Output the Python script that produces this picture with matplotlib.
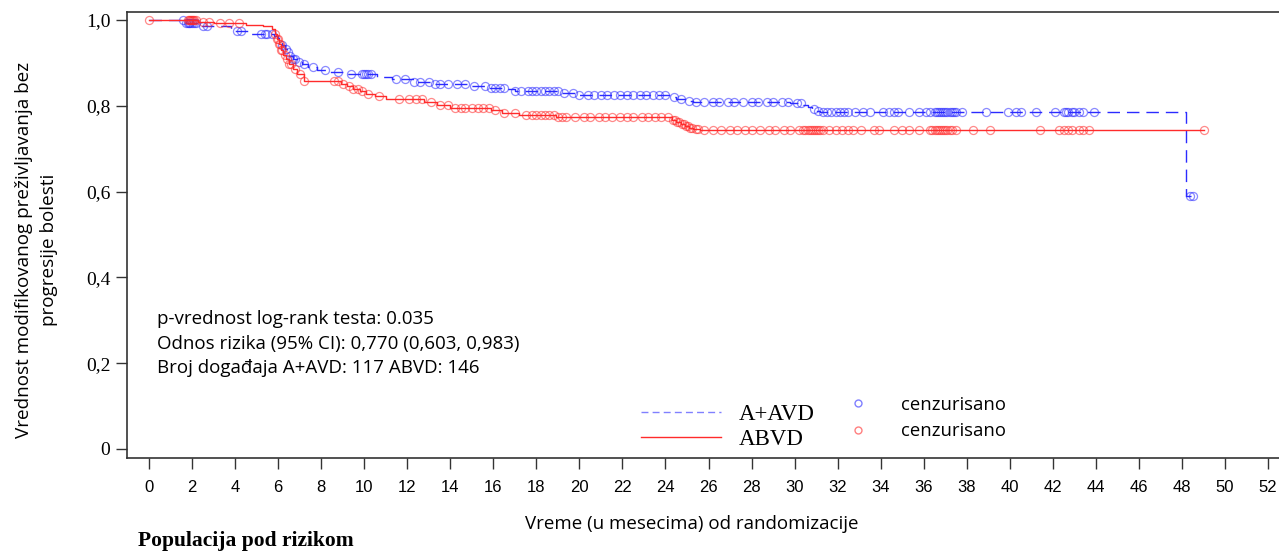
import numpy as np
import matplotlib
matplotlib.use("Agg")
import matplotlib.pyplot as plt
from matplotlib.lines import Line2D

# Kaplan-Meier knots (time in months, survival after the step)
aavd_t = [0, 1.7, 2.3, 3.8, 4.6, 5.8, 6.0, 6.1, 6.2, 6.3, 6.4, 6.5, 6.7, 6.9, 7.1, 7.4,
          7.8, 8.3, 9.0, 10.6, 11.3, 12.3, 13.2, 14.8, 15.8, 16.6, 17.0, 19.2, 20.0,
          24.2, 24.5, 24.9, 25.3, 29.8, 30.4, 30.6, 30.8, 31.0, 31.2, 48.2]
aavd_s = [1.0, 0.992, 0.987, 0.975, 0.968, 0.963, 0.957, 0.950, 0.942, 0.933, 0.925,
          0.917, 0.910, 0.903, 0.897, 0.890, 0.884, 0.879, 0.874, 0.868, 0.863, 0.856,
          0.851, 0.847, 0.842, 0.838, 0.834, 0.830, 0.824, 0.820, 0.816, 0.811, 0.808,
          0.806, 0.801, 0.797, 0.793, 0.789, 0.786, 0.590]
aavd_end = 48.5

abvd_t = [0, 2.3, 3.0, 4.5, 5.3, 5.7, 5.85, 5.95, 6.05, 6.15, 6.25, 6.35, 6.5, 6.7, 6.9,
          7.2, 8.9, 9.2, 9.5, 9.8, 10.1, 10.5, 11.0, 12.8, 13.4, 14.0, 15.9, 16.4, 17.2,
          18.9, 24.3, 24.5, 24.7, 24.9, 25.1, 25.3, 25.6]
abvd_s = [1.0, 0.996, 0.993, 0.989, 0.985, 0.978, 0.967, 0.955, 0.943, 0.931, 0.919,
          0.908, 0.897, 0.886, 0.873, 0.858, 0.850, 0.845, 0.840, 0.834, 0.828, 0.822,
          0.815, 0.808, 0.802, 0.795, 0.790, 0.784, 0.779, 0.773, 0.768, 0.763, 0.758,
          0.753, 0.749, 0.746, 0.744]
abvd_end = 49.0

# censoring times
aavd_cens = [1.6, 1.7, 1.8, 1.85, 1.9, 2.0, 2.1, 2.2, 2.5, 2.7, 4.1, 4.3, 5.2, 5.4, 5.5,
             5.7, 6.2, 6.35, 6.45, 6.55, 6.7, 6.8, 6.95, 7.2, 7.6, 8.2, 8.8, 9.4, 9.9,
             10.0, 10.1, 10.2, 10.3, 11.5, 11.9, 12.3, 12.6, 13.0, 13.3, 13.5, 13.9,
             14.3, 14.7, 15.1, 15.6, 15.9, 16.1, 16.3, 16.5, 17.0, 17.3, 17.6, 17.8,
             18.0, 18.2, 18.4, 18.6, 18.8, 19.0, 19.3, 19.7, 20.0, 20.4, 20.7, 21.0,
             21.3, 21.6, 21.9, 22.2, 22.5, 22.8, 23.1, 23.4, 23.7, 24.0, 24.4, 24.7,
             25.1, 25.4, 25.8, 26.2, 26.5, 26.9, 27.2, 27.6, 28.0, 28.3, 28.7, 29.0,
             29.4, 29.7, 30.1, 30.3, 30.9, 31.1, 31.3, 31.5, 31.7, 31.9, 32.1, 32.3,
             32.5, 32.8, 33.2, 33.5, 34.1, 34.4, 34.6, 34.8, 35.3, 35.8, 36.1, 36.3,
             36.5, 36.6, 36.7, 36.8, 36.9, 37.0, 37.1, 37.2, 37.3, 37.4, 37.5, 37.8,
             38.9, 39.9, 40.3, 40.5, 41.2, 42.1, 42.5, 42.6, 42.7, 42.9, 43.0, 43.2,
             43.4, 43.9, 48.35, 48.5]
abvd_cens = [0.0, 1.8, 1.85, 1.9, 1.95, 2.0, 2.05, 2.1, 2.2, 2.5, 2.8, 3.3, 3.7, 4.2,
             5.85, 5.95, 6.0, 6.05, 6.1, 6.15, 6.2, 6.3, 6.4, 6.5, 6.6, 6.8, 7.0, 7.2,
             8.6, 8.8, 9.0, 9.3, 9.5, 9.7, 9.9, 10.2, 10.7, 11.6, 12.1, 12.4, 12.7,
             13.1, 13.5, 13.9, 14.2, 14.5, 14.7, 15.0, 15.3, 15.5, 15.8, 16.1, 16.5,
             17.0, 17.5, 17.8, 18.0, 18.2, 18.4, 18.6, 18.8, 19.0, 19.2, 19.4, 19.8,
             20.2, 20.5, 20.9, 21.2, 21.5, 21.9, 22.2, 22.5, 22.9, 23.2, 23.5, 23.8,
             24.1, 24.35, 24.45, 24.55, 24.65, 24.75, 24.85, 24.95, 25.05, 25.15,
             25.25, 25.4, 25.5, 25.8, 26.2, 26.6, 27.0, 27.3, 27.7, 28.0, 28.4, 28.8,
             29.1, 29.5, 29.8, 30.2, 30.4, 30.5, 30.6, 30.7, 30.8, 30.9, 31.0, 31.1,
             31.2, 31.3, 31.6, 31.9, 32.2, 32.5, 32.7, 33.1, 33.7, 33.9, 34.6, 35.0,
             35.3, 35.8, 36.3, 36.4, 36.5, 36.6, 36.7, 36.8, 36.9, 37.0, 37.1, 37.2,
             37.3, 37.5, 38.3, 39.1, 41.4, 42.3, 42.5, 42.7, 42.9, 43.2, 43.4, 43.7,
             49.0]

x_ticks = list(range(0, 53, 2))
y_ticks = [0, 0.2, 0.4, 0.6, 0.8, 1.0]
y_labels = ["0", "0,2", "0,4", "0,6", "0,8", "1,0"]

stats_lines = ["p-vrednost log-rank testa: 0.035",
               "Odnos rizika (95% CI): 0,770 (0,603, 0,983)",
               "Broj događaja A+AVD: 117 ABVD: 146"]

BLUE = "#2b2bff"
RED = "#ff2b2b"
SANS = ["Open Sans", "DejaVu Sans"]
SERIF = ["Liberation Serif", "DejaVu Serif"]


def surv_at(t, s, times):
    idx = np.searchsorted(t, times, side="right") - 1
    return np.asarray(s)[idx]


def draw_arm(ax, t, s, end, cens, color, ls):
    tt = np.append(t, end)
    ss = np.append(s, s[-1])
    if ls == "--":
        ax.step(tt, ss, where="post", color=color, lw=1.0, ls="--", dashes=(9, 5))
    else:
        ax.step(tt, ss, where="post", color=color, lw=1.0)
    ax.plot(cens, surv_at(t, s, cens), ls="none", marker="o", ms=5.8, mfc="none",
            mec=color, mew=0.9, alpha=0.55)


fig = plt.figure(figsize=(12.79, 5.53), dpi=100)
ax_w = 1 - 127 / 1279 + 0.01
ax = fig.add_axes([127 / 1279, 1 - 458 / 553, ax_w, (458 - 12) / 553])

draw_arm(ax, aavd_t, aavd_s, aavd_end, aavd_cens, BLUE, "--")
draw_arm(ax, abvd_t, abvd_s, abvd_end, abvd_cens, RED, "-")

ax.set_xlim(-1.02, 53.1)
ax.set_ylim(-0.021, 1.0186)
ax.set_xticks(x_ticks)
ax.set_xticklabels([str(v) for v in x_ticks], family=["Liberation Sans"], fontsize=12)
ax.set_yticks(y_ticks)
ax.set_yticklabels(y_labels, family=SERIF, fontsize=14)
ax.tick_params(axis="x", direction="out", length=8, width=1, color="#333333", pad=8)
ax.tick_params(axis="y", direction="out", length=8, width=1, color="#333333", pad=4)
for side in ["left", "top", "bottom"]:
    ax.spines[side].set_color("#333333")
    ax.spines[side].set_linewidth(1.2)
ax.spines["right"].set_visible(False)

ax.set_xlabel("Vreme (u mesecima) od randomizacije", family=SANS, fontsize=13.5, labelpad=14)
ax.xaxis.label.set_x((692 - 127) / (ax_w * 1279))
ax.set_ylabel("Vrednost modifikovanog preživljavanja bez\nprogresije bolesti",
              family=SANS, fontsize=13.6, labelpad=20, linespacing=1.5)
ax.yaxis.label.set_y((458 - 250) / 446)

for i, line in enumerate(stats_lines):
    fig.text(157 / 1279, 1 - (319 + 24.5 * i) / 553, line, family=SANS, fontsize=13.5,
             va="center", ha="left")

# legends
leg1 = ax.legend(handles=[Line2D([], [], color=BLUE, ls="--", dashes=(5, 3), lw=1.0, alpha=0.6),
                          Line2D([], [], color=RED, lw=1.0)],
                 labels=["A+AVD", "ABVD"], frameon=False, prop={"family": SERIF, "size": 16.5},
                 handlelength=3.5, handletextpad=0.75, labelspacing=0.2,
                 loc="center left", bbox_to_anchor=(488 / 1152, 1 - (427 - 12) / 446))
ax.add_artist(leg1)
leg2 = ax.legend(handles=[Line2D([], [], ls="none", marker="o", ms=5, mfc="none", mec=BLUE, alpha=0.6),
                          Line2D([], [], ls="none", marker="o", ms=5, mfc="none", mec=RED, alpha=0.6)],
                 labels=["cenzurisano", "cenzurisano"], frameon=False,
                 prop={"family": SANS, "size": 13.3}, handlelength=1.0, handletextpad=1.83,
                 labelspacing=0.45, loc="center left",
                 bbox_to_anchor=(697 / 1152, 1 - (418 - 12) / 446))

fig.text(138 / 1279, 1 - 541 / 553, "Populacija pod rizikom", family=SERIF,
         fontsize=15.5, fontweight="bold", va="center", ha="left")

fig.savefig("out.png", dpi=100)
